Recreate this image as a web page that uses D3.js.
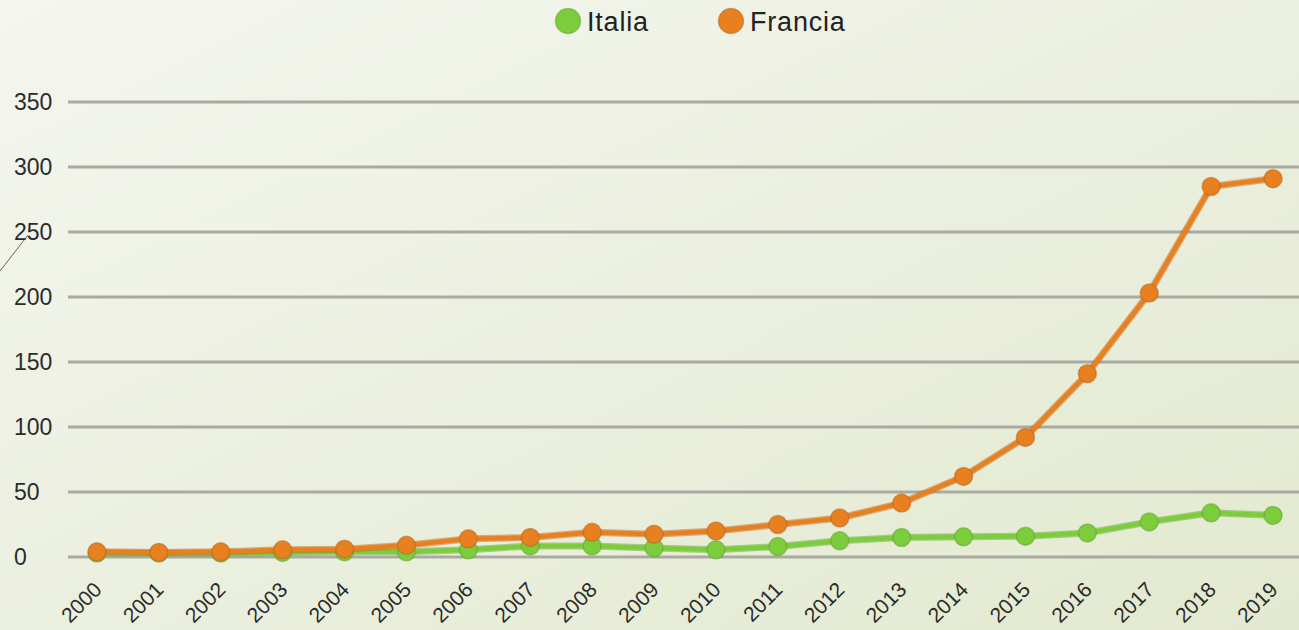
<!DOCTYPE html>
<html>
<head>
<meta charset="utf-8">
<script src="https://cdn.jsdelivr.net/npm/d3@7"></script>
<style>
  body { margin: 0; }
  svg { display: block; }
</style>
</head>
<body>
<svg id="chart" width="1299" height="630"></svg>
<script>
var years = ["2000","2001","2002","2003","2004","2005","2006","2007","2008","2009",
             "2010","2011","2012","2013","2014","2015","2016","2017","2018","2019"];
var italia = [3, 3, 3, 3.5, 4, 4, 5.5, 8.5, 8.5, 7, 5.5, 8, 12.5, 15, 15.5, 16, 18.5, 27, 34, 32];
var francia = [4, 3.5, 4, 5.5, 6, 9, 14, 15, 19, 17.5, 20, 25, 30, 41.5, 62, 92, 141, 203, 285, 291];
var yTicks = [0, 50, 100, 150, 200, 250, 300, 350];
var seriesNames = ["Italia", "Francia"];
var seriesColors = ["#7ccd3c", "#e8801f"];

var svg = d3.select("#chart");
var font = "Liberation Sans, Arial, sans-serif";

// background gradient
var defs = svg.append("defs");
var grad = defs.append("linearGradient")
    .attr("id", "bg")
    .attr("x1", "0%").attr("y1", "0%")
    .attr("x2", "100%").attr("y2", "100%");
grad.append("stop").attr("offset", "0%").attr("stop-color", "#f4f6ef");
grad.append("stop").attr("offset", "100%").attr("stop-color", "#e3e9cf");
svg.append("rect").attr("width", 1299).attr("height", 630).attr("fill", "url(#bg)");

// thin decorative line at the left edge
svg.append("line")
    .attr("x1", 0).attr("y1", 271).attr("x2", 28).attr("y2", 235)
    .attr("stroke", "#6b6450").attr("stroke-width", 1);

var x = d3.scaleBand().domain(years).range([66, 1304]);
var y = d3.scaleLinear().domain([0, 350]).range([557, 102]);

// grid lines
svg.append("g").selectAll("line")
    .data(yTicks)
    .join("line")
    .attr("x1", 68).attr("x2", 1304)
    .attr("y1", function(d) { return y(d); })
    .attr("y2", function(d) { return y(d); })
    .attr("stroke", "#a9aaa2")
    .attr("stroke-width", 3);

// y axis labels (left aligned)
var yAxis = svg.append("g")
    .attr("transform", "translate(14,0)")
    .call(d3.axisLeft(y).tickValues(yTicks).tickSize(0).tickPadding(0));
yAxis.select(".domain").remove();
yAxis.selectAll("text")
    .attr("text-anchor", "start")
    .attr("x", 0)
    .style("font-family", font)
    .style("font-size", "23px")
    .attr("fill", "#2b2b2b");

// x axis labels, rotated
var xAxis = svg.append("g")
    .attr("transform", "translate(0,591)")
    .call(d3.axisBottom(x).tickSize(0).tickPadding(0));
xAxis.select(".domain").remove();
xAxis.selectAll("text")
    .style("font-family", font)
    .style("font-size", "21px")
    .attr("fill", "#2b2b2b")
    .attr("text-anchor", "end")
    .attr("x", 0).attr("y", 0).attr("dy", 0)
    .attr("transform", "translate(6,0) rotate(-45)");

function cx(d, i) { return x(years[i]) + x.bandwidth() / 2; }

function plotSeries(values, color) {
    var line = d3.line()
        .x(function(d, i) { return cx(d, i); })
        .y(function(d) { return y(d); });
    svg.append("path")
        .datum(values)
        .attr("fill", "none")
        .attr("stroke", d3.color(color).darker(0.6))
        .attr("stroke-opacity", 0.5)
        .attr("stroke-width", 7)
        .attr("stroke-linejoin", "round")
        .attr("d", line);
    svg.append("path")
        .datum(values)
        .attr("fill", "none")
        .attr("stroke", color)
        .attr("stroke-width", 4.5)
        .attr("stroke-linejoin", "round")
        .attr("d", line);
    svg.append("g").selectAll("circle")
        .data(values)
        .join("circle")
        .attr("cx", cx)
        .attr("cy", function(d) { return y(d); })
        .attr("r", 9)
        .attr("fill", color)
        .attr("stroke", d3.color(color).darker(0.7))
        .attr("stroke-opacity", 0.5)
        .attr("stroke-width", 1.5);
}

plotSeries(italia, seriesColors[0]);
plotSeries(francia, seriesColors[1]);

// legend
var legendX = [568, 731];
seriesNames.forEach(function(name, i) {
    svg.append("circle")
        .attr("cx", legendX[i]).attr("cy", 21).attr("r", 12.5)
        .attr("fill", seriesColors[i])
        .attr("stroke", d3.color(seriesColors[i]).darker(0.7))
        .attr("stroke-opacity", 0.5)
        .attr("stroke-width", 1.5);
    svg.append("text")
        .attr("x", legendX[i] + 19).attr("y", 31)
        .style("font-family", font)
        .style("font-size", "27px")
        .style("letter-spacing", "0.8px")
        .attr("fill", "#222")
        .text(name);
});
</script>
</body>
</html>
